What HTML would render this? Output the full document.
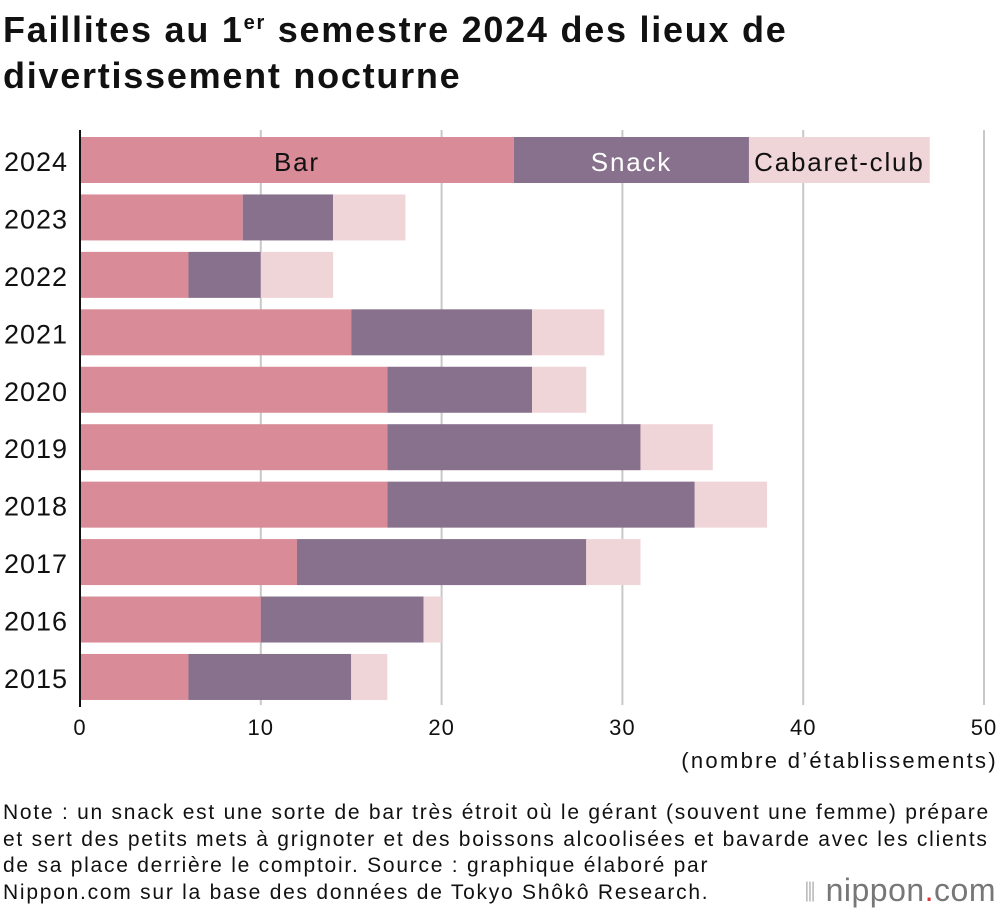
<!DOCTYPE html>
<html><head><meta charset="utf-8"><style>
body{margin:0;background:#fff;font-family:"Liberation Sans",Arial,sans-serif;}
#wrap{position:relative;width:1000px;height:920px;overflow:hidden;}
.title{position:absolute;left:3px;top:0px;font-size:36px;font-weight:bold;line-height:46px;color:#111;letter-spacing:1.75px}
.note{position:absolute;left:3px;top:800px;font-size:21px;line-height:26.5px;color:#111;width:1000px;letter-spacing:1.75px;white-space:nowrap}
.logo{position:absolute;right:4px;top:872px;font-size:32px;color:#777;letter-spacing:0.5px}
</style></head><body>
<div id="wrap">
<div class="title">Faillites au 1<sup style="font-size:20px">er</sup> semestre 2024 des lieux de<br>divertissement nocturne</div>
<svg id="chart" width="1000" height="790" style="position:absolute;left:0;top:0"></svg>
<div class="note">Note : un snack est une sorte de bar très étroit où le gérant (souvent une femme) prépare<br>et sert des petits mets à grignoter et des boissons alcoolisées et bavarde avec les clients<br>de sa place derrière le comptoir. Source : graphique élaboré par<br>Nippon.com sur la base des données de Tokyo Shôkô Research.</div>
<div class="logo"><span style="color:#bbb;font-size:26px">⦀</span> nippon<span style="color:#d33">.</span>com</div>
</div>
<script>
const years=["2024","2023","2022","2021","2020","2019","2018","2017","2016","2015"];
const bar=[24,9,6,15,17,17,17,12,10,6];
const snack=[13,5,4,10,8,14,17,16,9,9];
const cabaret=[10,4,4,4,3,4,4,3,1,2];
const ticks=[0,10,20,30,40,50];
const NS="http://www.w3.org/2000/svg";
const svg=document.getElementById('chart');
const x=v=>80+v*18.08;
const y=i=>137+i*57.44;
const BH=46;
function mk(t,a){const e=document.createElementNS(NS,t);for(const k in a)e.setAttribute(k,a[k]);svg.appendChild(e);return e;}
ticks.forEach(t=>{
  if(t>0){const g=mk('line',{x1:x(t),x2:x(t),y1:130,y2:705,stroke:'#c8c8c8','stroke-width':2});
  
  }
  const l=mk('text',{x:x(t),y:735,'text-anchor':'middle','font-size':22,'letter-spacing':1,fill:'#111'});l.textContent=t;
  
  
});
const cols=['#d98b98','#87718c','#f0d5d8'];
const series=[bar,snack,cabaret];
const names=['bar-segment','snack-segment','cabaret-segment'];
years.forEach((yr,i)=>{
  let acc=0;
  series.forEach((s,k)=>{
    const r=mk('rect',{x:x(acc),y:y(i),width:x(acc+s[i])-x(acc),height:BH,fill:cols[k]});
    
    
    acc+=s[i];
  });
  const t=mk('text',{x:4,y:y(i)+34,'font-size':27,'letter-spacing':1,fill:'#111'});t.textContent=yr;
  
  
});
const labs=[['Bar',(x(0)+x(24))/2,'#111'],['Snack',(x(24)+x(37))/2,'#fff'],['Cabaret-club',(x(37)+x(47))/2,'#111']];
labs.forEach(([s,cx,c])=>{
  const t=mk('text',{x:cx,y:y(0)+34,'text-anchor':'middle','font-size':26,'letter-spacing':1.8,fill:c});t.textContent=s;
  
  
});
const ax=mk('line',{x1:80,x2:80,y1:130,y2:707,stroke:'#111','stroke-width':2});


const u=mk('text',{x:998,y:768,'text-anchor':'end','font-size':22,'letter-spacing':2.3,fill:'#111'});u.textContent='(nombre d’établissements)';


</script>
</body></html>
